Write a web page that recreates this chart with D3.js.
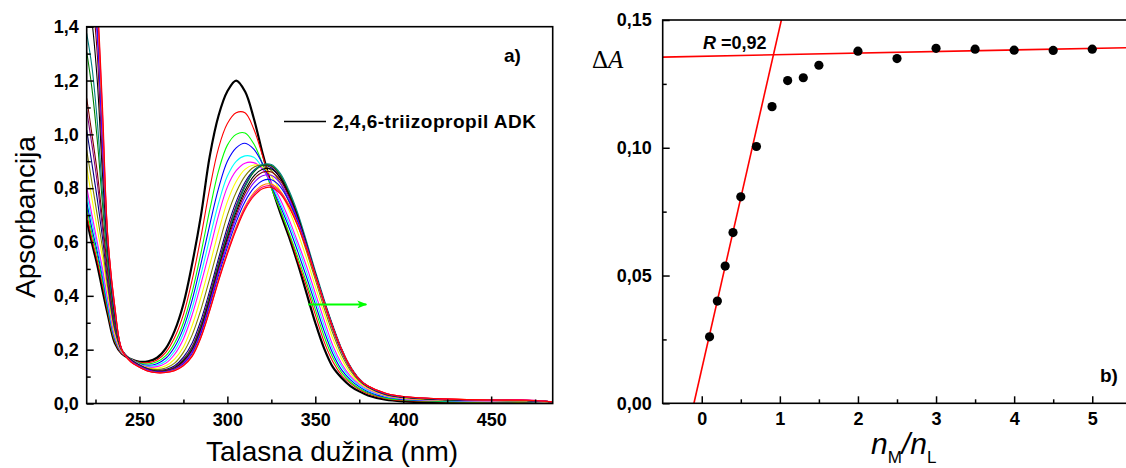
<!DOCTYPE html>
<html><head><meta charset="utf-8">
<script src="https://cdn.jsdelivr.net/npm/d3@7"></script>
<style>
body{margin:0;background:#fff}
svg{display:block}
text{font-family:"Liberation Sans",Arial,sans-serif;fill:#000}
</style>
</head><body>
<svg id="chart" width="1126" height="468"></svg>
<script>
// ---------- Panel a) : UV-Vis spectra ----------
const wavelengths = [220,223,226,229,232,236,240,245,250,255,260,265,270,275,280,285,290,295,300,305,310,315,320,325,330,335,340,345,350,355,360,365,370,375,380,390,400,420,450,470,485];

const spectrum01 = [.682,.595,.515,.42,.33,.225,.185,.165,.155,.157,.17,.205,.27,.37,.52,.70,.92,1.07,1.16,1.20,1.16,1.06,.93,.81,.71,.62,.52,.41,.30,.205,.135,.095,.065,.045,.03,.014,.008,.005,.004,.004,.003];
const spectrum02 = [.707,.61,.53,.44,.34,.23,.185,.165,.153,.152,.162,.19,.245,.33,.46,.62,.80,.95,1.04,1.08,1.08,1.02,.92,.81,.72,.63,.53,.435,.33,.23,.155,.105,.075,.052,.036,.018,.011,.007,.005,.005,.004];
const spectrum03 = [.731,.63,.55,.455,.35,.235,.188,.165,.15,.147,.155,.178,.225,.30,.415,.56,.72,.865,.96,1.0,1.005,.965,.89,.80,.72,.635,.545,.45,.35,.25,.17,.115,.08,.056,.04,.02,.013,.008,.006,.006,.004];
const spectrum04 = [.75,.65,.565,.47,.36,.24,.188,.165,.148,.142,.148,.168,.21,.28,.385,.52,.665,.80,.90,.95,.967,.945,.89,.81,.735,.655,.565,.47,.37,.27,.185,.125,.088,.062,.044,.023,.015,.01,.007,.007,.004];
const spectrum05 = [.781,.675,.585,.485,.37,.245,.19,.165,.146,.138,.142,.158,.195,.26,.355,.48,.615,.745,.845,.90,.92,.915,.875,.815,.745,.67,.585,.49,.39,.29,.20,.138,.095,.067,.048,.026,.017,.011,.008,.008,.005];
const spectrum06 = [.805,.70,.60,.50,.385,.25,.19,.165,.145,.135,.137,.15,.183,.24,.33,.445,.57,.70,.805,.865,.893,.895,.87,.82,.76,.685,.60,.51,.41,.31,.215,.148,.102,.072,.052,.028,.018,.012,.009,.009,.005];
const spectrum07 = [.88,.76,.65,.54,.41,.26,.192,.164,.144,.132,.131,.14,.165,.21,.29,.395,.515,.64,.75,.825,.87,.886,.88,.845,.79,.72,.635,.54,.435,.335,.24,.165,.112,.078,.056,.03,.02,.013,.01,.009,.005];
const spectrum08 = [.942,.82,.70,.575,.43,.27,.195,.164,.143,.13,.126,.132,.15,.19,.255,.35,.465,.585,.70,.785,.845,.878,.885,.865,.82,.75,.665,.565,.46,.355,.26,.18,.122,.083,.059,.032,.022,.014,.011,.01,.005];
const spectrum09 = [1.016,.89,.76,.615,.45,.28,.197,.163,.142,.128,.122,.126,.14,.172,.225,.31,.42,.54,.655,.75,.822,.866,.886,.876,.838,.772,.688,.585,.478,.372,.275,.192,.13,.087,.061,.034,.023,.015,.011,.01,.006];
const spectrum10 = [1.09,.96,.82,.65,.47,.29,.198,.163,.142,.127,.121,.124,.136,.165,.213,.296,.405,.525,.638,.736,.812,.862,.886,.881,.846,.78,.695,.59,.482,.377,.28,.197,.133,.089,.062,.035,.024,.016,.012,.011,.006];
const spectrum11 = [1.134,1.00,.86,.68,.49,.30,.20,.163,.142,.127,.12,.123,.134,.162,.208,.29,.40,.52,.632,.73,.808,.861,.885,.883,.848,.783,.698,.593,.484,.379,.283,.199,.134,.09,.063,.035,.024,.016,.012,.011,.006];
const spectrum12 = [1.307,1.17,.98,.74,.52,.31,.20,.163,.142,.127,.12,.122,.133,.16,.205,.285,.395,.515,.625,.725,.805,.86,.885,.884,.85,.785,.70,.595,.485,.38,.285,.20,.135,.09,.063,.035,.024,.016,.012,.011,.006];
const spectrum13 = [1.375,1.25,1.05,.78,.54,.32,.20,.163,.142,.126,.119,.121,.132,.158,.203,.283,.393,.513,.624,.726,.807,.863,.888,.888,.856,.792,.708,.603,.493,.387,.29,.204,.138,.092,.064,.035,.024,.016,.012,.011,.006];
const spectrum14 = [1.55,1.42,1.20,.85,.57,.33,.20,.162,.141,.126,.119,.121,.131,.157,.20,.279,.387,.505,.614,.712,.791,.845,.87,.871,.839,.776,.694,.592,.483,.379,.284,.20,.135,.09,.063,.035,.024,.016,.012,.011,.006];
const spectrum15 = [1.65,1.52,1.30,.90,.59,.34,.20,.161,.14,.125,.118,.12,.13,.154,.196,.273,.38,.497,.604,.701,.78,.833,.859,.86,.83,.77,.688,.589,.482,.379,.284,.20,.135,.09,.064,.036,.025,.017,.012,.011,.006];
const spectrum16 = [1.70,1.58,1.36,.95,.60,.345,.20,.159,.139,.124,.117,.119,.128,.151,.192,.267,.372,.488,.594,.69,.767,.82,.846,.848,.819,.762,.682,.586,.48,.378,.283,.20,.135,.09,.064,.036,.025,.017,.012,.011,.006];
const spectrum17 = [1.75,1.62,1.40,1.00,.61,.35,.20,.158,.137,.122,.116,.117,.126,.147,.186,.259,.362,.476,.58,.675,.75,.80,.828,.831,.806,.752,.675,.582,.478,.377,.282,.20,.135,.09,.064,.037,.025,.017,.013,.012,.006];
const spectrum18 = [1.80,1.67,1.45,1.04,.615,.355,.20,.156,.136,.121,.115,.116,.124,.143,.18,.251,.352,.464,.565,.657,.732,.783,.811,.815,.79,.738,.666,.578,.477,.376,.281,.20,.135,.09,.065,.038,.026,.018,.013,.012,.006];
const spectrum19 = [1.85,1.72,1.48,1.07,.62,.36,.20,.156,.135,.12,.114,.115,.123,.142,.178,.248,.348,.459,.56,.65,.726,.776,.804,.809,.785,.734,.663,.576,.476,.375,.28,.20,.135,.09,.065,.038,.026,.018,.013,.014,.006];
const spectrum20 = [1.90,1.75,1.50,1.10,.62,.36,.20,.155,.135,.12,.114,.115,.122,.14,.175,.245,.345,.455,.555,.645,.72,.77,.798,.803,.78,.73,.66,.575,.475,.375,.28,.20,.135,.09,.065,.038,.026,.018,.013,.012,.006];

const spectra = [spectrum01,spectrum02,spectrum03,spectrum04,spectrum05,spectrum06,spectrum07,spectrum08,spectrum09,spectrum10,
                 spectrum11,spectrum12,spectrum13,spectrum14,spectrum15,spectrum16,spectrum17,spectrum18,spectrum19,spectrum20];
const spectrumColors = ["#000000","#FF0000","#00FF00","#0000FF","#00FFFF","#FF00FF","#FFFF00","#808000","#000080","#800080",
                        "#800000","#008000","#008080","#000000","#800000","#8000FF","#0000FF","#FF8000","#FF0080","#FF0000"];

const leftXTicks = [250,300,350,400,450];
const leftXMinor = [225,275,325,375,425,475];
const leftYTicks = [0,0.2,0.4,0.6,0.8,1.0,1.2,1.4];
const leftYMinor = [0.1,0.3,0.5,0.7,0.9,1.1,1.3];
const shiftArrow = [[346,0.368],[379,0.368]];
const legendLabel = "2,4,6-triizopropil ADK";

// ---------- Panel b) : mole-ratio plot ----------
const ratioNM = [0.1,0.2,0.3,0.4,0.5,0.7,0.9,1.1,1.3,1.5,2,2.5,3,3.5,4,4.5,5];
const deltaA  = [0.026,0.040,0.0537,0.0668,0.0808,0.1005,0.1161,0.1263,0.1274,0.1323,0.1378,0.1349,0.1389,0.1386,0.1382,0.1381,0.1386];
const fitRising = [0.134,0.0134];     // slope, intercept
const fitPlateau = [0.00062,0.1358];  // slope, intercept
const rightXTicks = [0,1,2,3,4,5];
const rightXMinor = [0.5,1.5,2.5,3.5,4.5];
const rightYTicks = [0,0.05,0.10,0.15];
const rightYMinor = [0.025,0.075,0.125];

// ================= drawing =================
const svg = d3.select("#chart");
svg.append("rect").attr("width",1126).attr("height",468).attr("fill","#fff");
const defs = svg.append("defs");
const comma = f => d => f(d).replace(".",",");

function styleAxis(g, fontSize){
  g.select(".domain").remove();
  g.selectAll(".tick line").attr("stroke","#000").attr("stroke-width",1.5);
  g.selectAll(".tick text").attr("font-size",fontSize).attr("font-weight","bold")
   .attr("font-family","'Liberation Sans',Arial,sans-serif").attr("fill","#000");
}

// ---- left panel ----
const PL = {x0:86.7, x1:552.7, y0:26.7, y1:403.5};
const xL = d3.scaleLinear().domain([220,485]).range([PL.x0,PL.x1]);
const yL = d3.scaleLinear().domain([0,1.4]).range([PL.y1,PL.y0]);

defs.append("clipPath").attr("id","clipL").append("rect")
  .attr("x",PL.x0).attr("y",PL.y0).attr("width",PL.x1-PL.x0).attr("height",PL.y1-PL.y0);

const lineL = d3.line().x(d=>xL(d[0])).y(d=>yL(d[1])).curve(d3.curveCatmullRom.alpha(0.5));
const gSpec = svg.append("g").attr("clip-path","url(#clipL)");
spectra.forEach((s,i)=>{
  const pts = wavelengths.map((w,j)=>[w,s[j]]).filter(p=>p[1]!==undefined);
  gSpec.append("path").attr("d",lineL(pts)).attr("fill","none")
    .attr("stroke",spectrumColors[i]).attr("stroke-width", i===0?2.2:1.1);
});

// arrow
defs.append("marker").attr("id","arrowG").attr("viewBox","0 0 10 8").attr("refX",9).attr("refY",4)
  .attr("markerWidth",10).attr("markerHeight",8).attr("markerUnits","userSpaceOnUse").attr("orient","auto")
  .append("path").attr("d","M0,0 L10,4 L0,8 L2.5,4 Z").attr("fill","#00FF00");
svg.append("line").attr("x1",xL(shiftArrow[0][0])).attr("y1",yL(shiftArrow[0][1]))
  .attr("x2",xL(shiftArrow[1][0])).attr("y2",yL(shiftArrow[1][1]))
  .attr("stroke","#00FF00").attr("stroke-width",2).attr("marker-end","url(#arrowG)");

// axes left
const gxL = svg.append("g").attr("transform",`translate(0,${PL.y1})`)
  .call(d3.axisBottom(xL).tickValues(leftXTicks).tickSizeInner(-7).tickSizeOuter(0).tickPadding(10).tickFormat(d3.format("d")));
styleAxis(gxL,"18px");
const gxLm = svg.append("g").attr("transform",`translate(0,${PL.y1})`)
  .call(d3.axisBottom(xL).tickValues(leftXMinor).tickSizeInner(-4).tickSizeOuter(0).tickFormat(""));
styleAxis(gxLm,"18px");
const gyL = svg.append("g").attr("transform",`translate(${PL.x0},0)`)
  .call(d3.axisLeft(yL).tickValues(leftYTicks).tickSizeInner(-7).tickSizeOuter(0).tickPadding(8).tickFormat(comma(d3.format(".1f"))));
styleAxis(gyL,"18px");
const gyLm = svg.append("g").attr("transform",`translate(${PL.x0},0)`)
  .call(d3.axisLeft(yL).tickValues(leftYMinor).tickSizeInner(-4).tickSizeOuter(0).tickFormat(""));
styleAxis(gyLm,"18px");

svg.append("rect").attr("x",PL.x0).attr("y",PL.y0).attr("width",PL.x1-PL.x0).attr("height",PL.y1-PL.y0)
  .attr("fill","none").attr("stroke","#000").attr("stroke-width",1.6);

svg.append("text").attr("x",332).attr("y",461).attr("text-anchor","middle")
  .attr("font-size","28px").text("Talasna dužina (nm)");
svg.append("text").attr("transform","translate(35,217) rotate(-90)").attr("text-anchor","middle")
  .attr("font-size","28px").text("Apsorbancija");

// legend + panel label
svg.append("line").attr("x1",284).attr("x2",326).attr("y1",121.5).attr("y2",121.5)
  .attr("stroke","#000").attr("stroke-width",1.6);
svg.append("text").attr("x",333).attr("y",128).attr("font-size","19px").attr("font-weight","bold")
  .attr("letter-spacing","0.5px").text(legendLabel);
svg.append("text").attr("x",504).attr("y",62).attr("font-size","19px").attr("font-weight","bold").text("a)");

// ---- right panel ----
const PR = {x0:662.7, x1:1131.3, y0:20, y1:403.3};
const xR = d3.scaleLinear().domain([-0.5,5.5]).range([PR.x0,PR.x1]);
const yR = d3.scaleLinear().domain([0,0.15]).range([PR.y1,PR.y0]);

defs.append("clipPath").attr("id","clipR").append("rect")
  .attr("x",PR.x0).attr("y",PR.y0).attr("width",PR.x1-PR.x0).attr("height",PR.y1-PR.y0);

const gFit = svg.append("g").attr("clip-path","url(#clipR)");
const xStart = -fitRising[1]/fitRising[0];
const xEnd = (0.15-fitRising[1])/fitRising[0];
gFit.append("line").attr("x1",xR(xStart)).attr("y1",yR(0)).attr("x2",xR(xEnd)).attr("y2",yR(0.15))
  .attr("stroke","#FF0000").attr("stroke-width",1.6);
gFit.append("line").attr("x1",xR(-0.5)).attr("y1",yR(fitPlateau[0]*-0.5+fitPlateau[1]))
  .attr("x2",xR(5.5)).attr("y2",yR(fitPlateau[0]*5.5+fitPlateau[1]))
  .attr("stroke","#FF0000").attr("stroke-width",1.6);

svg.append("g").selectAll("circle").data(ratioNM).join("circle")
  .attr("cx",(d)=>xR(d)).attr("cy",(d,i)=>yR(deltaA[i])).attr("r",4.6).attr("fill","#000");

const gxR = svg.append("g").attr("transform",`translate(0,${PR.y1})`)
  .call(d3.axisBottom(xR).tickValues(rightXTicks).tickSizeInner(-7).tickSizeOuter(0).tickPadding(9).tickFormat(d3.format("d")));
styleAxis(gxR,"18px");
const gxRm = svg.append("g").attr("transform",`translate(0,${PR.y1})`)
  .call(d3.axisBottom(xR).tickValues(rightXMinor).tickSizeInner(-4).tickSizeOuter(0).tickFormat(""));
styleAxis(gxRm,"18px");
const gyR = svg.append("g").attr("transform",`translate(${PR.x0},0)`)
  .call(d3.axisLeft(yR).tickValues(rightYTicks).tickSizeInner(-7).tickSizeOuter(0).tickPadding(11).tickFormat(comma(d3.format(".2f"))));
styleAxis(gyR,"18px");
const gyRm = svg.append("g").attr("transform",`translate(${PR.x0},0)`)
  .call(d3.axisLeft(yR).tickValues(rightYMinor).tickSizeInner(-4).tickSizeOuter(0).tickFormat(""));
styleAxis(gyRm,"18px");

svg.append("rect").attr("x",PR.x0).attr("y",PR.y0).attr("width",PR.x1-PR.x0).attr("height",PR.y1-PR.y0)
  .attr("fill","none").attr("stroke","#000").attr("stroke-width",1.6);

// labels right
const dA = svg.append("text").attr("x",592).attr("y",68).attr("font-size","25px")
  .style("font-family","'Liberation Serif','Times New Roman',serif");
dA.append("tspan").text("\u0394");
dA.append("tspan").attr("font-style","italic").text("A");

const rT = svg.append("text").attr("x",703).attr("y",49).attr("font-size","18px").attr("font-weight","bold");
rT.append("tspan").attr("font-style","italic").text("R");
rT.append("tspan").text(" =0,92");

svg.append("text").attr("x",1100).attr("y",382).attr("font-size","19px").attr("font-weight","bold").text("b)");

const xt = svg.append("text").attr("x",871).attr("y",454).attr("font-size","30px");
xt.append("tspan").attr("font-style","italic").text("n");
xt.append("tspan").attr("font-size","17px").attr("dy",9).text("M");
xt.append("tspan").attr("font-style","italic").attr("dy",-9).text("/");
xt.append("tspan").attr("font-style","italic").text("n");
xt.append("tspan").attr("font-size","17px").attr("dy",9).text("L");
</script>
</body></html>
